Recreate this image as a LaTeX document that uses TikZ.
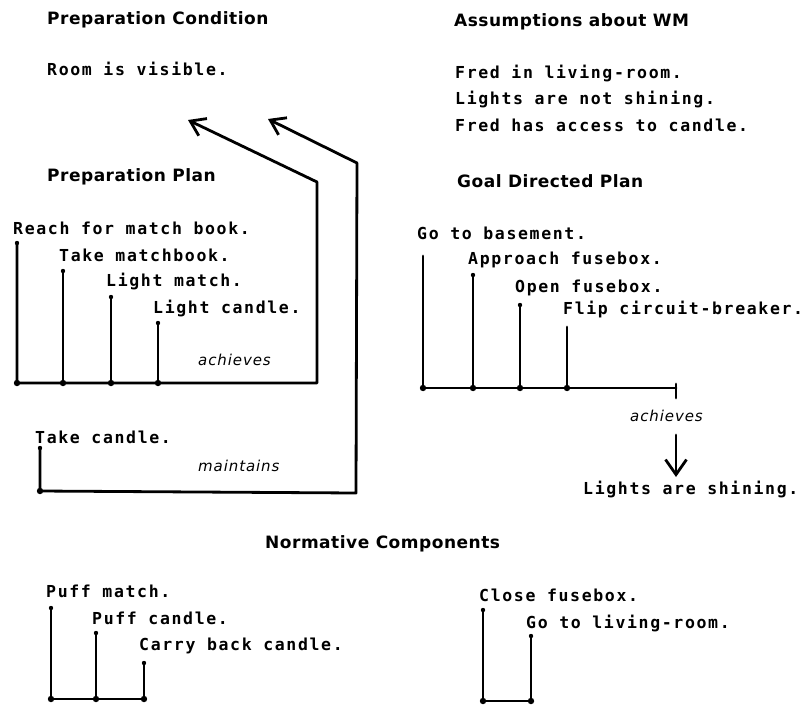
\documentclass[tikz,border=0pt]{standalone}
\usepackage{fontspec}
\setmainfont{DejaVu Sans}
\newfontfamily\stepfont[LetterSpace=10]{DejaVu Sans Mono}
\newfontfamily\headfont[LetterSpace=3]{DejaVu Sans}
\newfontfamily\relfont[LetterSpace=6]{DejaVu Sans}
\usetikzlibrary{arrows.meta}
\tikzset{
  txt/.style={inner sep=0pt, anchor=base west},
  heading/.style={txt, font=\headfont\bfseries\fontsize{17}{20}\selectfont},
  stepitem/.style={txt, font=\stepfont\bfseries\fontsize{16.5}{19}\selectfont},
  relation/.style={txt, font=\relfont\itshape\fontsize{15}{18}\selectfont},
  wire/.style={line width=2.8pt, line join=round, line cap=round},
  barb/.style={-{Straight Barb[length=14pt,width=19pt,line width=2.8pt]}},
}
\newcommand{\jdot}[1]{\fill (#1) circle (3.2pt);}
\newcommand{\tdot}[1]{\fill (#1) circle (2.2pt);}
\begin{document}
\begin{tikzpicture}[x=1pt,y=-1pt]
\useasboundingbox (0,0) rectangle (809,705);

% ---- headings ----
\node[heading] (hcond)  at (47,24)  {Preparation Condition};
\node[heading] (hwm)    at (454,26) {Assumptions about WM};
\node[heading] (hpplan) at (47,181) {Preparation Plan};
\node[heading] (hgplan) at (457,187) {Goal Directed Plan};
\node[heading] (hnorm)  at (265,548) {Normative Components};

% ---- condition and world model ----
\node[stepitem] (cond) at (47,75) {Room is visible.};
\node[stepitem] (wm1) at (455,78)  {Fred in living-room.};
\node[stepitem] (wm2) at (455,104) {Lights are not shining.};
\node[stepitem] (wm3) at (455,131) {Fred has access to candle.};

% ---- preparation plan ----
\node[stepitem] (p1) at (13,234)  {Reach for match book.};
\node[stepitem] (p2) at (59,261)  {Take matchbook.};
\node[stepitem] (p3) at (106,286) {Light match.};
\node[stepitem] (p4) at (153,313) {Light candle.};
\node[relation] (pach) at (198,365) {achieves};

\coordinate (p1t) at (17,243);  \coordinate (p1b) at (17,383);
\coordinate (p2t) at (63,271);  \coordinate (p2b) at (63,383);
\coordinate (p3t) at (111,297); \coordinate (p3b) at (111,383);
\coordinate (p4t) at (158,323); \coordinate (p4b) at (158,383);
\coordinate (pcorner) at (317,383);
\coordinate (pbend) at (317,182);
\coordinate (ptip) at (188,120);

\draw[wire] (p2t) -- (p2b);
\draw[wire] (p3t) -- (p3b);
\draw[wire] (p4t) -- (p4b);
\draw[wire,barb] (p1t) -- (p1b) -- (pcorner) -- (pbend) -- (ptip);
\foreach \c in {p1t,p2t,p3t,p4t}{\tdot{\c}}
\foreach \c in {p1b,p2b,p3b,p4b}{\jdot{\c}}

% ---- maintained step ----
\node[stepitem] (tc) at (35,443) {Take candle.};
\node[relation] (mnt) at (198,471) {maintains};
\coordinate (tct) at (40,448);
\coordinate (tcb) at (40,491);
\coordinate (mcorner) at (356,493);
\coordinate (mbend) at (357,163);
\coordinate (mtip) at (268,119);
\draw[wire,barb] (tct) -- (tcb) -- (mcorner) -- (mbend) -- (mtip);
\tdot{tct}
\jdot{tcb}

% ---- goal directed plan ----
\node[stepitem] (g1) at (417,239) {Go to basement.};
\node[stepitem] (g2) at (468,264) {Approach fusebox.};
\node[stepitem] (g3) at (515,292) {Open fusebox.};
\node[stepitem] (g4) at (563,314) {Flip circuit-breaker.};
\node[relation] (gach) at (630,421) {achieves};
\node[stepitem] (goal) at (583,494) {Lights are shining.};

\coordinate (g1t) at (423,256); \coordinate (g1b) at (423,388);
\coordinate (g2t) at (473,275); \coordinate (g2b) at (473,388);
\coordinate (g3t) at (520,305); \coordinate (g3b) at (520,388);
\coordinate (g4t) at (567,327); \coordinate (g4b) at (567,388);
\coordinate (gend) at (676,388);
\coordinate (gtickA) at (676,384);
\coordinate (gtickB) at (676,398);
\draw[wire] (g1t) -- (g1b) -- (gend);
\draw[wire] (g2t) -- (g2b);
\draw[wire] (g3t) -- (g3b);
\draw[wire] (g4t) -- (g4b);
\draw[wire] (gtickA) -- (gtickB);
\foreach \c in {g2t,g3t}{\tdot{\c}}
\foreach \c in {g1b,g2b,g3b,g4b}{\jdot{\c}}

\coordinate (ga) at (676,435);
\coordinate (gb) at (676,477);
\draw[wire,-{Straight Barb[length=15pt,width=21pt,line width=2.8pt]}] (ga) -- (gb);

% ---- normative components ----
\node[stepitem] (n1) at (46,597)  {Puff match.};
\node[stepitem] (n2) at (92,624)  {Puff candle.};
\node[stepitem] (n3) at (139,650) {Carry back candle.};
\coordinate (n1t) at (51,608);  \coordinate (n1b) at (51,699);
\coordinate (n2t) at (96,633);  \coordinate (n2b) at (96,699);
\coordinate (n3t) at (144,663); \coordinate (n3b) at (144,699);
\draw[wire] (n1t) -- (n1b) -- (n3b) -- (n3t);
\draw[wire] (n2t) -- (n2b);
\foreach \c in {n1t,n2t,n3t}{\tdot{\c}}
\foreach \c in {n1b,n2b,n3b}{\jdot{\c}}

\node[stepitem] (c1) at (479,601) {Close fusebox.};
\node[stepitem] (c2) at (526,628) {Go to living-room.};
\coordinate (c1t) at (483,610); \coordinate (c1b) at (483,701);
\coordinate (c2t) at (531,636); \coordinate (c2b) at (531,701);
\draw[wire] (c1t) -- (c1b) -- (c2b) -- (c2t);
\foreach \c in {c1t,c2t}{\tdot{\c}}
\foreach \c in {c1b,c2b}{\jdot{\c}}
\end{tikzpicture}
\end{document}
